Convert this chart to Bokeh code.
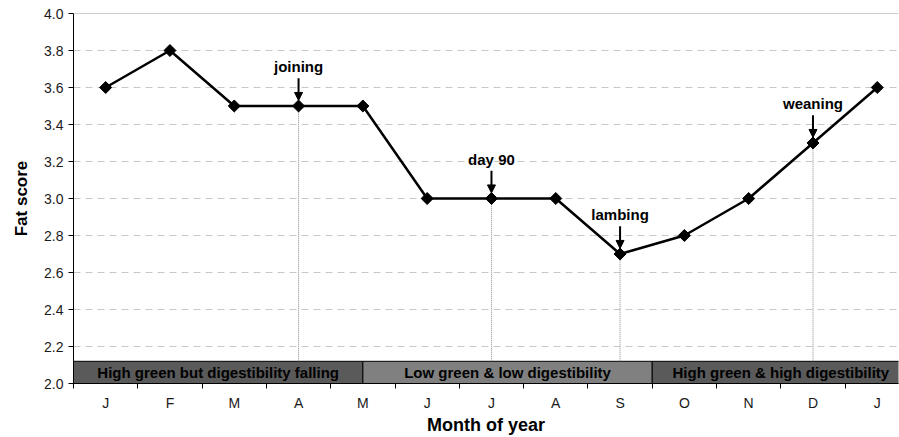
from bokeh.plotting import figure
from bokeh.models import FixedTicker, ColumnDataSource, Span, Arrow, NormalHead, Label, CustomJSTickFormatter
from bokeh.embed import file_html
from bokeh.resources import INLINE
from bokeh.core.properties import value

months = ["J", "F", "M", "A", "M", "J", "J", "A", "S", "O", "N", "D", "J"]
fat_score = [3.6, 3.8, 3.5, 3.5, 3.5, 3.0, 3.0, 3.0, 2.7, 2.8, 3.0, 3.3, 3.6]
y_ticks = [2.0, 2.2, 2.4, 2.6, 2.8, 3.0, 3.2, 3.4, 3.6, 3.8, 4.0]

event_names = ["joining", "day 90", "lambing", "weaning"]
event_index = [3, 6, 8, 11]

band_names = ["High green but digestibility falling", "Low green & low digestibility", "High green & high digestibility"]
band_start = [-0.5, 4.0, 8.5]
band_end = [4.0, 8.5, 12.5]
band_colors = ["#5a5a5a", "#808080", "#5a5a5a"]
band_top = 2.12

FONT = "Liberation Sans"
x = list(range(len(months)))

p = figure(width=899, height=437, x_range=(-0.5, 12.33), y_range=(2.0, 4.0),
           output_backend="svg", toolbar_location=None,
           min_border_left=73, min_border_top=13, min_border_right=1, min_border_bottom=0)
p.outline_line_color = None
p.background_fill_color = "white"

# grid
p.xgrid.grid_line_color = None
p.ygrid.grid_line_color = "#c8c8c8"
p.ygrid.grid_line_dash = "7 5"
p.ygrid.grid_line_width = 1
p.add_layout(Span(location=4.0, dimension="width", line_color="#a0a0a0", line_width=1))

# bands
src_b = ColumnDataSource(dict(left=band_start, right=band_end, names=band_names, colors=band_colors,
                              mid=[(a + b) / 2 for a, b in zip(band_start, band_end)]))
p.quad(left="left", right="right", bottom=2.0, top=band_top, fill_color="colors",
       line_color="black", line_width=1, source=src_b)
p.text(x="mid", y=(2.0 + band_top) / 2, text="names", source=src_b, text_align="center",
       text_baseline="middle", text_font=value(FONT), text_font_style="bold",
       text_font_size="15px", text_color="black")

# dotted drop lines
for i in event_index:
    p.segment(x0=i, y0=band_top, x1=i, y1=fat_score[i], line_color="#8a8a8a",
              line_dash="1 1", line_width=1)

# main line
p.line(x, fat_score, line_color="black", line_width=2.5)
p.scatter(x, fat_score, marker="square", angle=0.785398, size=8.5, fill_color="black", line_color="black")

# event arrows & labels
for name, i in zip(event_names, event_index):
    yv = fat_score[i]
    p.add_layout(Arrow(end=NormalHead(size=8, fill_color="black", line_color="black"),
                       x_start=i, y_start=yv + 0.15, x_end=i, y_end=yv + 0.03,
                       line_color="black", line_width=2))
    p.add_layout(Label(x=i, y=yv + 0.165, text=name, text_align="center", text_baseline="bottom",
                       text_font=FONT, text_font_style="bold", text_font_size="15px",
                       text_color="black"))

# axes
p.yaxis.ticker = FixedTicker(ticks=y_ticks)
p.yaxis.formatter = CustomJSTickFormatter(code="return tick.toFixed(1);")
p.yaxis.axis_label = "Fat score"
p.yaxis.axis_label_text_font = FONT
p.yaxis.axis_label_text_font_style = "bold"
p.yaxis.axis_label_text_font_size = "17px"
p.yaxis.axis_label_text_color = "black"
p.yaxis.axis_label_standoff = 10
p.yaxis.major_label_text_font = FONT
p.yaxis.major_label_text_font_size = "14px"
p.yaxis.major_label_text_color = "#1a1a1a"
p.yaxis.major_label_standoff = 5
p.yaxis.major_tick_in = 0
p.yaxis.major_tick_out = 5
p.yaxis.minor_tick_line_color = None
p.yaxis.axis_line_color = "black"

half = [k - 0.5 for k in range(len(months) + 1)]
p.xaxis.ticker = FixedTicker(ticks=x, minor_ticks=half)
p.xaxis.major_label_overrides = {k: m for k, m in zip(x, months)}
p.xaxis.major_tick_line_color = None
p.xaxis.major_tick_out = 5
p.xaxis.minor_tick_in = 0
p.xaxis.minor_tick_out = 5
p.xaxis.minor_tick_line_color = "black"
p.xaxis.major_label_standoff = 6
p.xaxis.major_label_text_font = FONT
p.xaxis.major_label_text_font_size = "14px"
p.xaxis.major_label_text_color = "#1a1a1a"
p.xaxis.axis_label = "Month of year"
p.xaxis.axis_label_text_font = FONT
p.xaxis.axis_label_text_font_style = "bold"
p.xaxis.axis_label_text_font_size = "18px"
p.xaxis.axis_label_text_color = "black"
p.xaxis.axis_label_standoff = 1
p.xaxis.axis_line_color = "black"

open("out.html", "w").write(file_html(p, INLINE))
